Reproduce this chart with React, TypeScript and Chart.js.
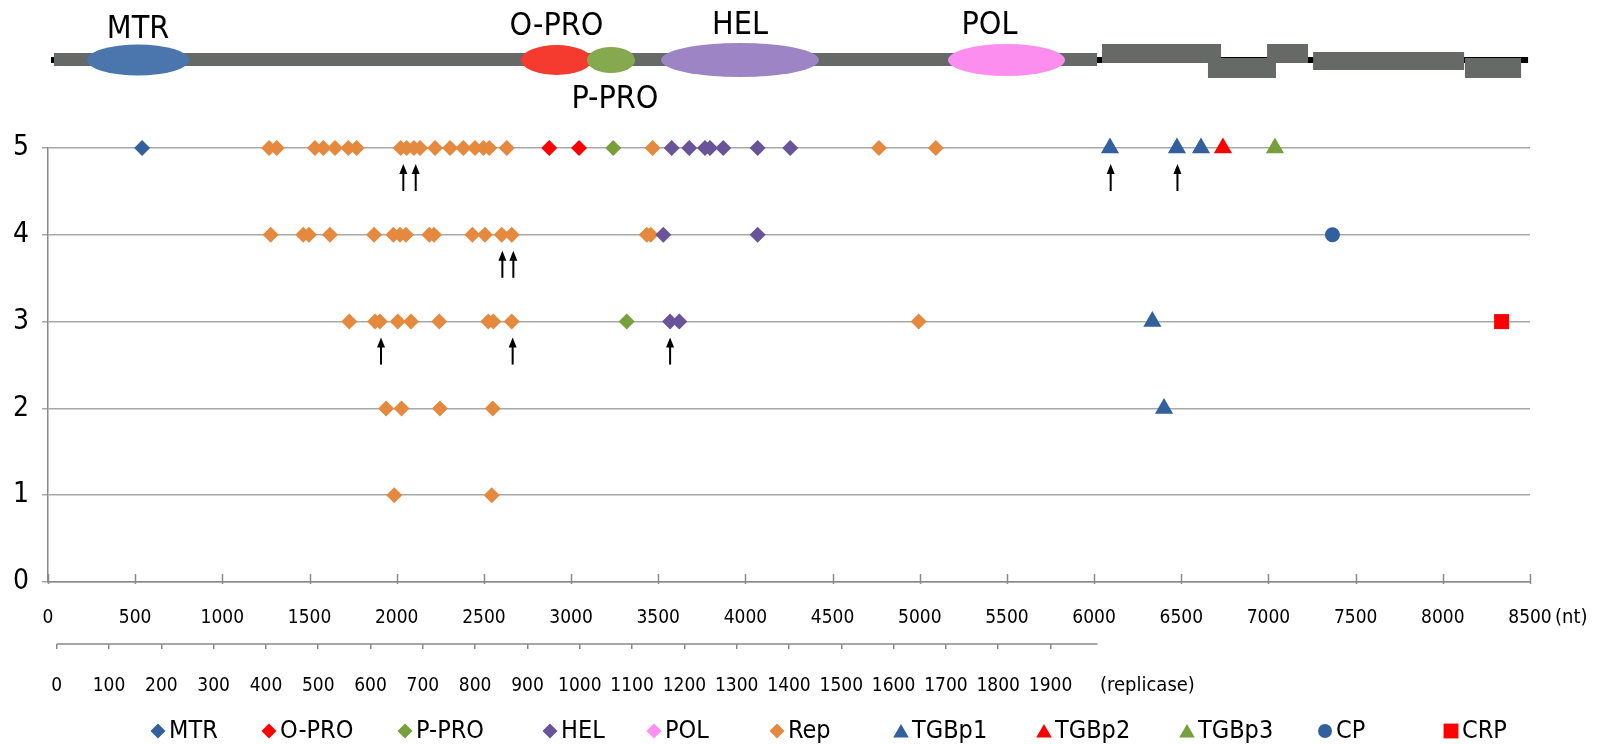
import React, { useEffect, useRef } from 'react';
import { Chart, registerables } from 'chart.js';
Chart.register(...registerables);

// ---------- data (genome position in nt, row = number of isolates) ----------
const MTR_X = [540];
const MTR_Y = [5];
const OPRO_X = [2875, 3046];
const OPRO_Y = [5, 5];
const PPRO_X = [3242, 3319];
const PPRO_Y = [5, 3];
const HEL_X = [3577, 3678, 3768, 3797, 3873, 4070, 4257, 3529, 4070, 3568, 3621];
const HEL_Y = [5, 5, 5, 5, 5, 5, 5, 4, 4, 3, 3];
const POL_X: number[] = [];
const POL_Y: number[] = [];
const REP_X = [
  1268, 1312, 1531, 1579, 1646, 1722, 1770, 2023, 2057, 2099, 2134, 2220, 2306, 2382, 2449, 2497, 2531, 2631, 3468, 4766, 5092,
  1277, 1464, 1497, 1617, 1870, 1981, 2019, 2053, 2187, 2214, 2434, 2506, 2602, 2660, 3434, 3457,
  1728, 1876, 1904, 2006, 2082, 2244, 2525, 2554, 2660, 4994,
  1939, 2028, 2248, 2551,
  1986, 2545,
];
const REP_Y = [
  5, 5, 5, 5, 5, 5, 5, 5, 5, 5, 5, 5, 5, 5, 5, 5, 5, 5, 5, 5, 5,
  4, 4, 4, 4, 4, 4, 4, 4, 4, 4, 4, 4, 4, 4, 4, 4,
  3, 3, 3, 3, 3, 3, 3, 3, 3, 3,
  2, 2, 2, 2,
  1, 1,
];
const TGBP1_X = [6091, 6475, 6613, 6334, 6401];
const TGBP1_Y = [5, 5, 5, 3, 2];
const TGBP2_X = [6739];
const TGBP2_Y = [5];
const TGBP3_X = [7037];
const TGBP3_Y = [5];
const CP_X = [7367];
const CP_Y = [4];
const CRP_X = [8337];
const CRP_Y = [3];

// arrows (nt, row)
const ARROW_X = [2038, 2109, 6095, 6478, 2606, 2669, 1910, 2665, 3568];
const ARROW_Y = [5, 5, 5, 5, 4, 4, 3, 3, 3];

// axes
const X_MIN = 0;
const X_MAX = 8500;
const X_STEP = 500;
const Y_MIN = 0;
const Y_MAX = 5;
const REP_OFFSET_NT = 50; // replicase aa 0 sits at this nt
const NT_PER_AA = 3;
const REP_TICKS = [0, 100, 200, 300, 400, 500, 600, 700, 800, 900, 1000, 1100, 1200, 1300, 1400, 1500, 1600, 1700, 1800, 1900];
const REP_AXIS_END = 1990;

// genome map (nt)
const GENOME_START = 17;
const GENOME_END = 8489;
const BACKBONE_START = 34;
const BACKBONE_END = 6017;
const DOMAIN_NAMES = ['MTR', 'O-PRO', 'P-PRO', 'HEL', 'POL'];
const DOMAIN_START = [224, 2713, 3091, 3516, 5162];
const DOMAIN_END = [809, 3120, 3367, 4422, 5833];
const DOMAIN_COLORS = ['#4a76ad', '#f53a30', '#84a94f', '#9d84c4', '#fc8ef0'];
const ORF_START = [6045, 6653, 6992, 7256, 8127];
const ORF_END = [6728, 7043, 7227, 8122, 8449];
const ORF_LANE = [0, 2, 0, 1, 2];

// ---------- styles / layout ----------
const W = 1603;
const H = 744;
const FONT = '"DejaVu Sans Condensed", "Liberation Sans", Arial, sans-serif';
const GRID = '#a8a8a8';
const AXIS = '#8a8a8a';
const BLUE = '#31609c';
const RED = '#ff0000';
const GREEN = '#77a03d';
const PURPLE = '#6a5499';
const PINK = '#ff8ff0';
const ORANGE = '#e4893e';
const LEGEND_X = [158, 269, 405, 550, 654, 777, 901, 1044, 1187, 1325, 1451];
const LEGEND_Y = 731;
const DOMAIN_LABEL_DX = [0, 0, 4, 0, -17];
const DOMAIN_LABEL_Y = [30, 27, 100, 26, 26];

const pts = (xs: number[], ys: number[]) => xs.map((x, i) => ({ x, y: ys[i] }));

const SERIES = [
  { label: 'MTR', xs: MTR_X, ys: MTR_Y, style: 'rectRot', color: BLUE, r: 8 },
  { label: 'O-PRO', xs: OPRO_X, ys: OPRO_Y, style: 'rectRot', color: RED, r: 8 },
  { label: 'P-PRO', xs: PPRO_X, ys: PPRO_Y, style: 'rectRot', color: GREEN, r: 8 },
  { label: 'HEL', xs: HEL_X, ys: HEL_Y, style: 'rectRot', color: PURPLE, r: 8 },
  { label: 'POL', xs: POL_X, ys: POL_Y, style: 'rectRot', color: PINK, r: 8 },
  { label: 'Rep', xs: REP_X, ys: REP_Y, style: 'rectRot', color: ORANGE, r: 8 },
  { label: 'TGBp1', xs: TGBP1_X, ys: TGBP1_Y, style: 'triangle', color: BLUE, r: 10.5 },
  { label: 'TGBp2', xs: TGBP2_X, ys: TGBP2_Y, style: 'triangle', color: RED, r: 10.5 },
  { label: 'TGBp3', xs: TGBP3_X, ys: TGBP3_Y, style: 'triangle', color: GREEN, r: 10.5 },
  { label: 'CP', xs: CP_X, ys: CP_Y, style: 'circle', color: BLUE, r: 7.5 },
  { label: 'CRP', xs: CRP_X, ys: CRP_Y, style: 'rect', color: RED, r: 10.6 },
];

function drawMarker(ctx: CanvasRenderingContext2D, style: string, x: number, y: number, r: number, color: string) {
  ctx.save();
  ctx.fillStyle = color;
  ctx.beginPath();
  if (style === 'rectRot') {
    ctx.moveTo(x, y - r); ctx.lineTo(x + r, y); ctx.lineTo(x, y + r); ctx.lineTo(x - r, y);
  } else if (style === 'triangle') {
    ctx.moveTo(x, y - r); ctx.lineTo(x + 0.866 * r, y + r / 2); ctx.lineTo(x - 0.866 * r, y + r / 2);
  } else if (style === 'circle') {
    ctx.arc(x, y, r, 0, Math.PI * 2);
  } else {
    const s = r * Math.SQRT1_2;
    ctx.rect(x - s, y - s, 2 * s, 2 * s);
  }
  ctx.closePath();
  ctx.fill();
  ctx.restore();
}

const genomePlugin = {
  id: 'genomeMap',
  afterDraw(chart: any) {
    const ctx: CanvasRenderingContext2D = chart.ctx;
    const xs = chart.scales.x;
    const px = (v: number) => xs.getPixelForValue(v);
    ctx.save();
    // thin black genome line
    ctx.fillStyle = '#000';
    ctx.fillRect(px(GENOME_START), 57, px(GENOME_END) - px(GENOME_START), 6);
    // replicase backbone
    ctx.fillStyle = '#656a67';
    ctx.fillRect(px(BACKBONE_START), 53, px(BACKBONE_END) - px(BACKBONE_START), 13);
    // 3' ORFs
    const laneTop = [44, 52, 58];
    const laneBot = [63, 70, 78];
    ORF_START.forEach((s, i) => {
      const l = ORF_LANE[i];
      ctx.fillRect(px(s), laneTop[l], px(ORF_END[i]) - px(s), laneBot[l] - laneTop[l]);
    });
    // domains
    const ry = [15.5, 15, 13, 17, 16];
    DOMAIN_START.forEach((s, i) => {
      const x1 = px(s), x2 = px(DOMAIN_END[i]);
      ctx.fillStyle = DOMAIN_COLORS[i];
      ctx.beginPath();
      ctx.ellipse((x1 + x2) / 2, 60, (x2 - x1) / 2, ry[i], 0, 0, Math.PI * 2);
      ctx.fill();
    });
    // labels
    ctx.fillStyle = '#000';
    ctx.font = `32px ${FONT}`;
    ctx.textAlign = 'center';
    ctx.textBaseline = 'middle';
    DOMAIN_NAMES.forEach((n, i) => {
      const cx = (px(DOMAIN_START[i]) + px(DOMAIN_END[i])) / 2 + DOMAIN_LABEL_DX[i];
      ctx.fillText(n, cx, DOMAIN_LABEL_Y[i]);
    });
    ctx.restore();
  },
};

const annotPlugin = {
  id: 'annot',
  afterDraw(chart: any) {
    const ctx: CanvasRenderingContext2D = chart.ctx;
    const x = chart.scales.x;
    const x2 = chart.scales.x2;
    const y = chart.scales.y;
    ctx.save();
    // inside tick marks on main x axis
    ctx.strokeStyle = AXIS;
    ctx.lineWidth = 1.5;
    const base = y.getPixelForValue(0);
    x.ticks.forEach((t: any) => {
      const p = Math.round(x.getPixelForValue(t.value)) + 0.5;
      ctx.beginPath(); ctx.moveTo(p, base - 8); ctx.lineTo(p, base + 2); ctx.stroke();
    });
    // replicase axis line
    const ry = x2.top;
    ctx.beginPath();
    ctx.moveTo(x2.getPixelForValue(0), ry);
    ctx.lineTo(x2.getPixelForValue(REP_AXIS_END), ry);
    ctx.stroke();
    // axis unit labels
    ctx.fillStyle = '#000';
    ctx.font = `20px ${FONT}`;
    ctx.textAlign = 'left';
    ctx.textBaseline = 'middle';
    ctx.fillText('(nt)', 1555, 618);
    ctx.fillText('(replicase)', 1100, 686);
    // arrows
    ctx.strokeStyle = '#000';
    ctx.fillStyle = '#000';
    ctx.lineWidth = 2;
    ARROW_X.forEach((v, i) => {
      const p = x.getPixelForValue(v);
      const yl = y.getPixelForValue(ARROW_Y[i]);
      ctx.beginPath(); ctx.moveTo(p, yl + 43); ctx.lineTo(p, yl + 23); ctx.stroke();
      ctx.beginPath(); ctx.moveTo(p, yl + 16); ctx.lineTo(p - 4, yl + 26); ctx.lineTo(p + 4, yl + 26); ctx.closePath(); ctx.fill();
    });
    // legend
    ctx.font = `25px ${FONT}`;
    ctx.textAlign = 'left';
    ctx.textBaseline = 'middle';
    chart.data.datasets.forEach((ds: any, i: number) => {
      const lx = LEGEND_X[i];
      const st = ds.pointStyle;
      const r = st === 'triangle' ? 9 : st === 'rect' ? 10.5 : st === 'circle' ? 7 : 7.5;
      drawMarker(ctx, st, lx, LEGEND_Y + (st === 'triangle' ? 2 : 0), r, ds.backgroundColor);
      ctx.fillStyle = '#000';
      ctx.fillText(ds.label, lx + 11, LEGEND_Y);
    });
    ctx.restore();
  },
};

export default function App() {
  const ref = useRef<HTMLCanvasElement>(null);
  useEffect(() => {
    const canvas = ref.current;
    if (!canvas) return;
    const datasets = SERIES.map((s) => ({
      label: s.label,
      data: pts(s.xs, s.ys),
      pointStyle: s.style,
      pointRadius: s.r,
      pointHoverRadius: s.r,
      backgroundColor: s.color,
      borderColor: s.color,
      pointBorderWidth: 0,
      borderWidth: 0,
      showLine: false,
      clip: false,
    }));
    const chart = new Chart(canvas, {
      type: 'scatter',
      data: { datasets } as any,
      options: {
        responsive: false,
        animation: false,
        events: [],
        layout: { padding: { top: 148, left: 0, right: 73, bottom: 0 } },
        plugins: { legend: { display: false }, tooltip: { enabled: false } },
        scales: {
          x: {
            type: 'linear',
            position: 'bottom',
            weight: 0,
            min: X_MIN,
            max: X_MAX,
            ticks: {
              stepSize: X_STEP,
              callback: (v: any) => String(v),
              font: { family: FONT, size: 19 },
              color: '#000',
              padding: 25,
              maxRotation: 0,
              autoSkip: false,
            },
            grid: { display: false, drawTicks: false },
            border: { display: true, color: AXIS, width: 1.5 },
            afterFit: (s: any) => { s.height = 62; },
          },
          x2: {
            type: 'linear',
            axis: 'x',
            position: 'bottom',
            weight: 1,
            min: -REP_OFFSET_NT / NT_PER_AA,
            max: (X_MAX - REP_OFFSET_NT) / NT_PER_AA,
            afterBuildTicks: (s: any) => { s.ticks = REP_TICKS.map((v) => ({ value: v })); },
            ticks: {
              callback: (v: any) => String(v),
              font: { family: FONT, size: 19 },
              color: '#000',
              padding: 26,
              maxRotation: 0,
              autoSkip: false,
            },
            grid: { display: true, drawOnChartArea: false, drawTicks: true, tickLength: 5, color: AXIS, lineWidth: 1.5 },
            border: { display: false },
            afterFit: (s: any) => { s.height = 100; },
          },
          y: {
            type: 'linear',
            min: Y_MIN,
            max: Y_MAX,
            ticks: { stepSize: 1, font: { family: FONT, size: 28 }, color: '#000', padding: 13 },
            grid: { color: GRID, lineWidth: 1.5, drawTicks: true, tickLength: 6 },
            border: { display: true, color: AXIS, width: 1.5 },
            afterFit: (s: any) => { s.width = 48; },
          },
        },
      } as any,
      plugins: [genomePlugin, annotPlugin],
    });
    return () => chart.destroy();
  }, []);
  return (
    <div style={{ position: 'absolute', left: 0, top: 0, width: W, height: H, background: '#fff' }}>
      <canvas ref={ref} width={W} height={H} style={{ display: 'block', width: W, height: H }} />
    </div>
  );
}
